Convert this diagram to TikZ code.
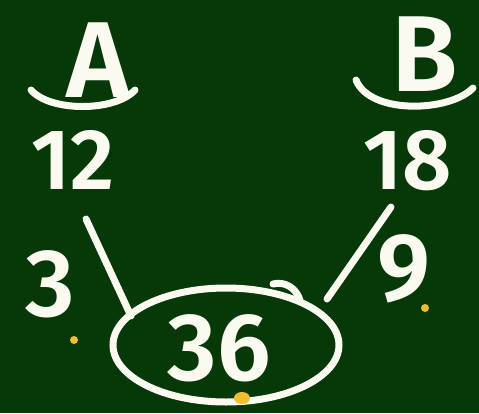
\documentclass[tikz,border=0pt]{standalone}
\usepackage{fontspec}
\setmainfont{Fira Sans}[UprightFont={* SemiBold}]
\usetikzlibrary{shapes.geometric}
\definecolor{board}{RGB}{6,56,8}
\definecolor{chalk}{RGB}{250,250,240}
\definecolor{dotyellow}{RGB}{240,190,40}
\tikzset{
  chalkline/.style={draw=chalk,line width=7pt,line cap=round},
  chalktext/.style={text=chalk,inner sep=0pt,anchor=center},
  ydot/.style={fill=dotyellow,draw=none}
}
\newcommand{\fs}[1]{\fontsize{#1}{#1}\selectfont}
\begin{document}
\begin{tikzpicture}[x=1pt,y=-1pt]
\fill[board] (0,0) rectangle (479,413);
\useasboundingbox (0,0) rectangle (479,413);
% A / 12
\node[chalktext,font=\fs{108}] (A) at (98,60) {A};
\draw[chalkline] (31,90) .. controls (50,112) and (115,112) .. (135,90);
\node[chalktext,font=\fs{86}] (n12) at (73,160) {12};
% B / 18
\node[chalktext,font=\fs{108}] (B) at (425,54) {B};
\draw[chalkline] (356,80) .. controls (370,115) and (450,112) .. (473,88);
\node[chalktext,font=\fs{86}] (n18) at (408,161) {18};
% ellipse 36
\node[draw=chalk,line width=7pt,ellipse,minimum width=226pt,minimum height=114pt] (e36) at (226,345) {};
\node[chalktext,font=\fs{96}] (n36) at (219,348) {36};
% connectors
\coordinate (l1) at (86,219);
\coordinate (l2) at (131,316);
\draw[chalkline] (l1) -- (l2);
\coordinate (r1) at (391,207);
\coordinate (r2) at (327,299);
\draw[chalkline] (r1) -- (r2);
\draw[chalkline] (273,284) .. controls (285,281) and (296,288) .. (300,300);
% side numbers
\node[chalktext,font=\fs{96}] (n3) at (50,284) {3};
\node[chalktext,font=\fs{96}] (n9) at (404,269) {9};
% yellow dots
\fill[ydot] (74,340) circle (4pt);
\fill[ydot] (425,308) circle (4pt);
\fill[ydot] (242,398) ellipse (8pt and 6pt);
\end{tikzpicture}
\end{document}
